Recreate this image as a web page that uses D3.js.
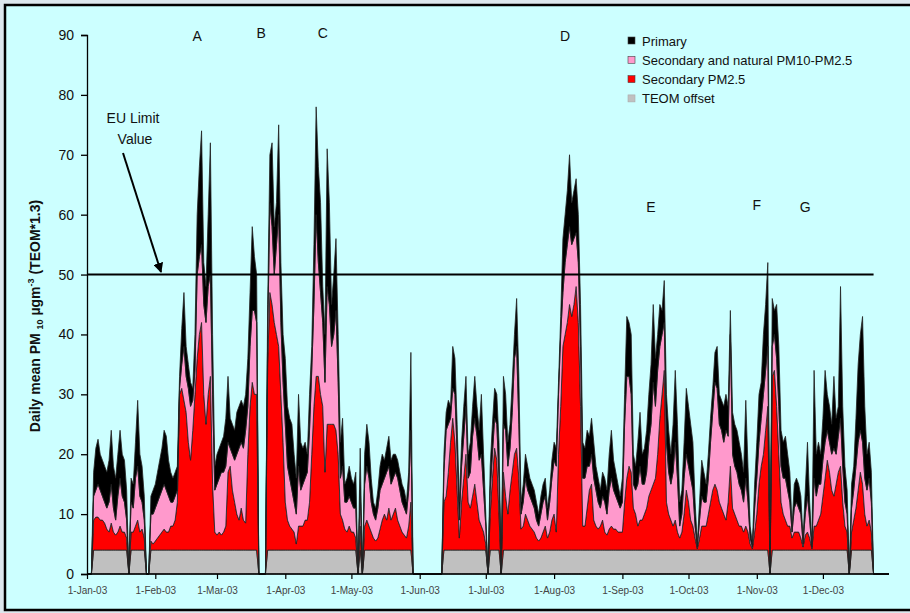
<!DOCTYPE html>
<html>
<head>
<meta charset="utf-8">
<script src="https://cdn.jsdelivr.net/npm/d3@7"></script>
<style>
  body { margin: 0; background: #dce7ed; }
  svg { display: block; font-family: Arial, "Liberation Sans", sans-serif; }
</style>
</head>
<body>
<div class="chart"></div>
<script>
// daily values, 1-Jan-03 .. 31-Dec-03 (0 = no data)
var startDate = new Date(2003, 0, 1);

var secondaryFine = [
  0,0,0,5,5.5,5.5,5,5,4.5,3.5,
  3,4.5,3,2.5,3,4,3,3,2,0,
  3,3,4,5,3,3.5,2,0,0,1.5,
  1,1.5,2,2.5,3,3.5,3,3,4,4,
  5,8,26,27,25,23,18,15,20,26,
  32,36,38,26,21,26,29,11,3,2.5,
  3,2.5,3,4,13,14,10,8,6,5,
  7,5,4.5,16,24,28,26,26,0,0,
  0,0,31,43,41,38,36,34,26,18,
  8,5,4,3.5,3,1,4,4,4,5,
  5,8,16,24,29,29,26,24,13,21,
  21,21,21,20,16,6,5,3.5,3,4,
  3,3,2,0,4,0,4,5,4,3,
  2,1.5,2,3.5,5,6,5,7,5,6,
  7,5,4,3,2.5,2,4,8,0,0,
  0,0,0,0,0,0,0,0,0,0,
  0,0,8,9,13,18,22,18,10,2,
  8,12,16,8,7,9,11,8,5,4,
  3,1,0,6,12,17,15,6,0,13,
  9,6,10,13,16,17,12,3.5,4,6,
  5,4,3.5,3,2,1.5,2,3,4,2,
  3,5,6,3,16,24,34,36,38,41,
  39,41,44,38,24,4,4,7,10,11,
  5,4,3.5,4,5,3,2.5,3.5,4,3.5,
  3.5,3,3,3,8,12,14,13,7,6,
  4,5,5,6,7,9,10,11,12,16,
  22,26,30,8,6,5,4,5,3,2,
  3,6,10,8,5,4,2,0.2,2,4,
  4,4,6,8,10,11,10,8,7,6,
  5,8,14,7,6,5,4,4,3,4,
  3,1,0.2,3,6,11,14,16,20,24,
  0,29,30,24,16,8,6,5,4,4,
  2,3,3,3,2,0.5,2.5,3,2,0.2,
  4,4,5,6,9,12,15,13,10,9,
  11,13,14,8,4,3,0,3,5,7,
  10,13,11,6,4,5,3,0,0,0,
  0,0,0,0,0
];

var secondaryCoarse = [
  0,0,0,4,4.5,5.5,5,4,3.5,3.5,
  5,6.5,4,2.5,6,8,6,5,3,0,
  5,4,8,9,6,4.5,3,0,0,4.5,
  5,5.5,6,6.5,7,7.5,7,6,4,4,
  4,2,1,4,9,6,9,9,5,4,
  14,13,13,15,17,18,17,15,7,8.5,
  9,10.5,10,10,5,3,6,7,10,12,
  11,12,15.5,8,10,12,14,12,0,0,
  0,0,5,15,13,8,15,22,12,10,
  13,9,8,6.5,5,5,10,6,7,7,
  8,12,14,17,27,19,17,14,15,23,
  20,13,15,20,12,6,9,4.5,5,5,
  5,4,5,0,6,0,7,9,8,5,
  4,3.5,5,6.5,6,6,8,7,6,6,
  6,7,6,5,4.5,4,6,12,0,0,
  0,0,0,0,0,0,0,0,0,0,
  0,0,5,11,8,4,5,8,6,3,
  6,7,8,4,6,10,11,11,10,12,
  7,3,0,4,4,5,6,6,0,8,
  11,8,7,10,16,17,9,2.5,4,6,
  5,5,4.5,4,3,2.5,4,5,5,3,
  5,7,9,11,10,12,9,12,13,13,
  12,11,9,10,10,8,8,7,4,5,
  7,6,4.5,3,4,5,3.5,6.5,8,6.5,
  5.5,5,4,5,13,17,15,13,4,4,
  7,9,6,5,6,9,11,17,12,14,
  12,10,8,10,7,6,9,13,9,2,
  3,6,6,6,7,6,2,0.3,3,5,
  4,4,6,10,13,17,17,13,13,12,
  15,11,22,9,8,8,7,6,5,8,
  5,1,0.3,4,6,7,8,10,10,10,
  0,5,6,8,8,6,6,7,6,4,
  1,4,5,4,4,0.5,3.5,6,3,0.3,
  8,5,6,5,6,6,5,5,6,8,
  5,6,8,6,4,3,0,4,5,7,
  8,7,7,6,6,7,5,0,0,0,
  0,0,0,0,0
];

var primary = [
  0,0,0,4,7,7.5,6,6,6,6,
  7,9,7,7,7,8,7,7,5,0,
  4,4,6,11,7,6,4,0,0,3,
  4,4,5,6,7,9,9,6,5,4,
  4,4,2,6,9,5,4,4,2,6,
  10,15,19,7,6,12,22,10,4,5,
  5,5,6,8,11,5,5,5,7,7,
  7,7,6,8,9,14,9,8,0,0,
  0,0,5,8,14,8,7,15,10,8,
  11,10,10,11,8,6,12,8,6,6,
  3,6,4,10,18,16,15,6,8,23,
  17,7,10,12,8,6,8,3,4,5,
  4,4,6,0,7,0,5,7,6,4,
  2,2,3,4,5,3,4,5,4,4,
  3,3,3,3,3,2,3,13,0,0,
  0,0,0,0,0,0,0,0,0,0,
  0,0,3,3,4,2,7,6,5,3,
  4,5,5,4,5,5,7,5,5,10,
  6,2,0,4,5,5,5,6,0,8,
  6,4,4,5,4,8,8,2,3,4,
  4,3,3,3,3,2,3,3,3,2,
  2,3,3,3,2,3,9,8,9,12,
  7,8,9,8,7,6,5,6,5,6,
  6,4,4,3,4,4,4,6,8,5,
  4,3,2,4,5,10,9,10,5,4,
  7,9,5,6,7,8,10,13,8,6,
  7,4,7,8,7,5,8,12,9,4,
  4,6,11,10,9,8,4,0.5,3,6,
  5,3,4,4,4,5,7,5,5,6,
  6,5,4,7,7,7,7,6,5,13,
  6,2,0.5,4,6,8,6,10,11,14,
  0,8,4,9,10,6,6,7,6,5,
  1,4,4,4,3,1,4,9,3,0.5,
  18,7,7,5,7,12,6,6,5,12,
  6,5,22,10,6,4,0,4,4,8,
  13,16,21,12,6,6,5,0,0,0,
  0,0,0,0,0
];

var teomOffset = [
  0,0,0,4,4,4,4,4,4,4,
  4,4,4,4,4,4,4,4,4,0,
  4,4,4,4,4,4,4,0,0,4,
  4,4,4,4,4,4,4,4,4,4,
  4,4,4,4,4,4,4,4,4,4,
  4,4,4,4,4,4,4,4,4,4,
  4,4,4,4,4,4,4,4,4,4,
  4,4,4,4,4,4,4,4,0,0,
  0,0,4,4,4,4,4,4,4,4,
  4,4,4,4,4,4,4,4,4,4,
  4,4,4,4,4,4,4,4,4,4,
  4,4,4,4,4,4,4,4,4,4,
  4,4,4,0,4,0,4,4,4,4,
  4,4,4,4,4,4,4,4,4,4,
  4,4,4,4,4,4,4,4,0,0,
  0,0,0,0,0,0,0,0,0,0,
  0,0,4,4,4,4,4,4,4,4,
  4,4,4,4,4,4,4,4,4,4,
  4,4,0,4,4,4,4,4,0,4,
  4,4,4,4,4,4,4,4,4,4,
  4,4,4,4,4,4,4,4,4,4,
  4,4,4,4,4,4,4,4,4,4,
  4,4,4,4,4,4,4,4,4,4,
  4,4,4,4,4,4,4,4,4,4,
  4,4,4,4,4,4,4,4,4,4,
  4,4,4,4,4,4,4,4,4,4,
  4,4,4,4,4,4,4,4,4,4,
  4,4,4,4,4,4,4,4,4,4,
  4,4,4,4,4,4,4,4,4,4,
  4,4,4,4,4,4,4,4,4,4,
  4,4,4,4,4,4,4,4,4,4,
  0,4,4,4,4,4,4,4,4,4,
  4,4,4,4,4,4,4,4,4,4,
  4,4,4,4,4,4,4,4,4,4,
  4,4,4,4,4,4,0,4,4,4,
  4,4,4,4,4,4,4,0,0,0,
  0,0,0,0,0
];

var yTicks = [0, 10, 20, 30, 40, 50, 60, 70, 80, 90];
var euLimit = 50;
var euLineDates = [new Date(2003, 0, 1), new Date(2003, 11, 24)];

var seriesKeys = ["teom", "fine", "coarse", "primary"];
var seriesNames = {
  primary: "Primary",
  coarse: "Secondary and natural PM10-PM2.5",
  fine: "Secondary PM2.5",
  teom: "TEOM offset"
};
var colors = { teom: "#c0c0c0", fine: "#ff0000", coarse: "#ff99cc", primary: "#000000" };

var episodes = [
  { label: "A", date: new Date(2003, 1, 20), v: 89 },
  { label: "B", date: new Date(2003, 2, 21), v: 89.5 },
  { label: "C", date: new Date(2003, 3, 18), v: 89.5 },
  { label: "D", date: new Date(2003, 7, 6), v: 89 },
  { label: "E", date: new Date(2003, 8, 14), v: 60.5 },
  { label: "F", date: new Date(2003, 10, 1), v: 60.8 },
  { label: "G", date: new Date(2003, 10, 23), v: 60.5 }
];

function init(){
  var w = 910;
  var h = 613;

  var table = secondaryFine.map(function(d, i){
    return {
      date: d3.timeDay.offset(startDate, i),
      teom: teomOffset[i],
      fine: secondaryFine[i],
      coarse: secondaryCoarse[i],
      primary: primary[i]
    };
  });

  var svg = d3.select(".chart")
              .append("svg")
              .attr("width", w)
              .attr("height", h);

  // frame
  svg.append("rect").attr("width", w).attr("height", h).attr("fill", "#dce7ed");
  svg.append("rect").attr("x", 6).attr("y", 5).attr("width", w - 6).attr("height", 605)
     .attr("fill", "#ccffff");
  svg.append("path")
     .attr("d", "M" + w + ",5H5V610H" + w)
     .attr("fill", "none").attr("stroke", "#000").attr("stroke-width", 2.5);

  var x = d3.scaleTime()
            .domain([new Date(2003, 0, 1), new Date(2003, 11, 31)])
            .range([87, 889]);

  var y = d3.scaleLinear()
            .domain([0, 90])
            .range([574, 35]);

  var stack = d3.stack().keys(seriesKeys);
  var layers = stack(table);

  var area = d3.area()
               .x(function(d){ return x(d.data.date); })
               .y0(function(d){ return y(d[0]); })
               .y1(function(d){ return y(d[1]); });

  svg.append("g")
     .selectAll("path")
     .data(layers)
     .join("path")
       .attr("d", area)
       .attr("fill", function(d){ return colors[d.key]; })
       .attr("stroke", "#222")
       .attr("stroke-width", 0.8)
       .attr("stroke-linejoin", "round");

  // EU limit line
  var line = d3.line()
               .x(function(d){ return x(d); })
               .y(function(){ return y(euLimit); });
  svg.append("path")
     .datum(euLineDates)
     .attr("d", line)
     .attr("stroke", "#000")
     .attr("stroke-width", 2)
     .attr("fill", "none");

  // axes
  var yAxis = d3.axisLeft(y)
                .tickValues(yTicks)
                .tickSize(6)
                .tickPadding(7);

  var yG = svg.append("g")
              .attr("transform", "translate(87,0)")
              .call(yAxis);
  yG.selectAll("text").style("font-size", "14px").attr("fill", "#111");
  yG.selectAll("line, path").attr("stroke", "#000").attr("stroke-width", 1.3);

  var xAxis = d3.axisBottom(x)
                .ticks(d3.timeMonth.every(1))
                .tickFormat(d3.timeFormat("%-d-%b-%y"))
                .tickSize(5)
                .tickPadding(8);

  var xG = svg.append("g")
              .attr("transform", "translate(0,574)")
              .call(xAxis);
  xG.select(".domain").attr("d", "M87,0H889").attr("stroke", "#000").attr("stroke-width", 1.3);
  xG.selectAll(".tick line").attr("stroke", "#000").attr("stroke-width", 1.2);
  xG.selectAll("text").style("font-size", "10px").attr("fill", "#444");

  // y label
  var yLabel = svg.append("text")
                  .attr("transform", "translate(40,316) rotate(-90)")
                  .attr("text-anchor", "middle")
                  .style("font-size", "14px")
                  .style("font-weight", "bold")
                  .attr("fill", "#111");
  yLabel.append("tspan").text("Daily mean PM ");
  yLabel.append("tspan").attr("dy", 3).style("font-size", "9px").text("10");
  yLabel.append("tspan").attr("dy", -3).text(" \u00b5gm");
  yLabel.append("tspan").attr("dy", -6).style("font-size", "9px").text("-3");
  yLabel.append("tspan").attr("dy", 6).text(" (TEOM*1.3)");

  // episode letters
  svg.append("g")
     .selectAll("text")
     .data(episodes)
     .join("text")
       .attr("x", function(d){ return x(d.date); })
       .attr("y", function(d){ return y(d.v); })
       .attr("text-anchor", "middle")
       .style("font-size", "14px")
       .attr("fill", "#111")
       .text(function(d){ return d.label; });

  // EU limit annotation
  svg.append("text").attr("x", 133).attr("y", 123).attr("text-anchor", "middle")
     .style("font-size", "14px").attr("fill", "#111").text("EU Limit");
  svg.append("text").attr("x", 135).attr("y", 144).attr("text-anchor", "middle")
     .style("font-size", "14px").attr("fill", "#111").text("Value");

  svg.append("defs").append("marker")
     .attr("id", "arrow")
     .attr("viewBox", "0 0 10 10")
     .attr("refX", 9).attr("refY", 5)
     .attr("markerWidth", 5).attr("markerHeight", 5)
     .attr("orient", "auto")
     .append("path").attr("d", "M0,0L10,5L0,10z").attr("fill", "#000");

  svg.append("line")
     .attr("x1", 123).attr("y1", 153)
     .attr("x2", 161).attr("y2", 272)
     .attr("stroke", "#000").attr("stroke-width", 2)
     .attr("marker-end", "url(#arrow)");

  // legend
  var legendKeys = ["primary", "coarse", "fine", "teom"];
  var legend = svg.append("g")
                  .selectAll("g")
                  .data(legendKeys)
                  .join("g")
                    .attr("transform", function(d, i){
                      return "translate(628," + (41 + i * 19.3) + ")";
                    });
  legend.append("rect")
        .attr("x", 0).attr("y", -4)
        .attr("width", 7).attr("height", 7)
        .attr("fill", function(d){ return colors[d]; })
        .attr("stroke", function(d){ return d == "teom" ? "#aaa" : "#444"; })
        .attr("stroke-width", 0.6);
  legend.append("text")
        .attr("x", 14).attr("y", 4.5)
        .style("font-size", "13px")
        .attr("fill", "#111")
        .text(function(d){ return seriesNames[d]; });
}

window.onload = init;
</script>
</body>
</html>
